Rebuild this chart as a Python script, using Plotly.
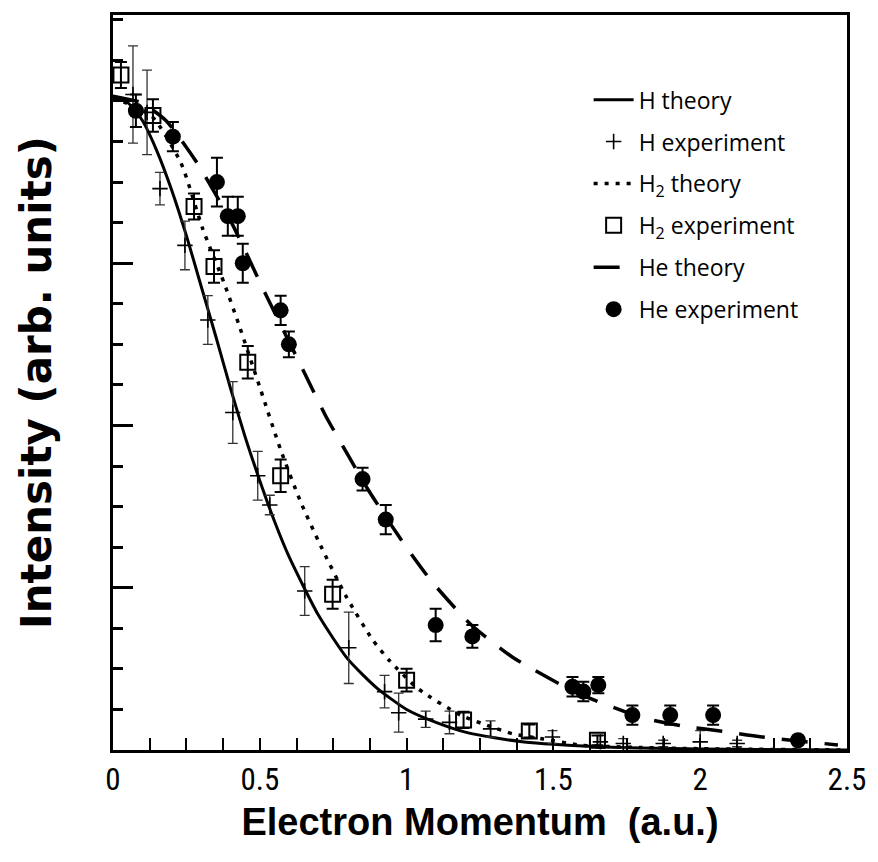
import plotly.graph_objects as go

# ---------------- data ----------------
# H theory (solid)
h_th_x = [0.0, 0.05, 0.1, 0.15, 0.2, 0.25, 0.3, 0.35, 0.4, 0.45, 0.5, 0.55, 0.6, 0.7, 0.8,
          0.9, 1.0, 1.1, 1.2, 1.3, 1.4, 1.5, 1.6, 1.7, 1.8, 2.0, 2.2, 2.5]
h_th_y = [4.03, 3.99, 3.88, 3.69, 3.45, 3.17, 2.86, 2.55, 2.23, 1.93, 1.66, 1.41, 1.19, 0.83, 0.56,
          0.38, 0.25, 0.17, 0.11, 0.075, 0.05, 0.035, 0.025, 0.017, 0.012, 0.006, 0.003, 0.0]

# H experiment (+ with error bars)
h_ex_x = [0.068, 0.116, 0.160, 0.245, 0.323, 0.408, 0.493, 0.534, 0.653, 0.803, 0.925,
          0.973, 1.065, 1.146, 1.286, 1.497, 1.660, 1.738, 1.874, 2.000, 2.126]
h_ex_y = [4.04, 3.93, 3.46, 3.11, 2.65, 2.08, 1.69, 1.51, 0.98, 0.63, 0.36,
          0.23, 0.19, 0.17, 0.13, 0.08, 0.05, 0.04, 0.04, 0.05, 0.04]
h_ex_e = [0.30, 0.26, 0.10, 0.15, 0.15, 0.19, 0.15, 0.06, 0.15, 0.22, 0.10,
          0.12, 0.05, 0.07, 0.05, 0.04, 0.04, 0.03, 0.02, 0.07, 0.02]

# H2 theory (dotted)
h2_th_x = [0.0, 0.13, 0.231, 0.306, 0.378, 0.429, 0.503, 0.571, 0.639, 0.707, 0.793, 0.884,
           0.942, 1.041, 1.184, 1.293, 1.361, 1.466, 1.592, 1.8, 2.0, 2.5]
h2_th_y = [4.02, 3.91, 3.62, 3.21, 2.88, 2.62, 2.22, 1.85, 1.53, 1.26, 0.95, 0.68,
           0.55, 0.375, 0.215, 0.14, 0.10, 0.068, 0.03, 0.015, 0.008, 0.0]

# H2 experiment (open squares)
h2_ex_x = [0.027, 0.136, 0.276, 0.344, 0.459, 0.571, 0.748, 1.000, 1.194, 1.418, 1.650]
h2_ex_y = [4.16, 3.91, 3.35, 2.98, 2.39, 1.69, 0.96, 0.43, 0.185, 0.117, 0.06]
h2_ex_e = [0.08, 0.10, 0.08, 0.10, 0.10, 0.10, 0.09, 0.07, 0.05, 0.04, 0.03]

# He theory (dashed)
he_th_x = [0.0, 0.095, 0.18, 0.282, 0.401, 0.517, 0.656, 0.724, 0.803, 0.867, 0.935, 1.003,
           1.085, 1.218, 1.361, 1.575, 1.796, 1.939, 2.068, 2.211, 2.469]
he_th_y = [4.03, 3.99, 3.88, 3.63, 3.26, 2.82, 2.31, 2.06, 1.81, 1.61, 1.42, 1.24,
           1.04, 0.775, 0.572, 0.357, 0.203, 0.148, 0.117, 0.08, 0.031]

# He experiment (filled circles)
he_ex_x = [0.078, 0.204, 0.354, 0.391, 0.425, 0.442, 0.571, 0.599, 0.850, 0.929, 1.099,
           1.224, 1.565, 1.602, 1.653, 1.769, 1.898, 2.044, 2.333]
he_ex_y = [3.94, 3.78, 3.50, 3.29, 3.29, 3.00, 2.71, 2.50, 1.67, 1.42, 0.77,
           0.70, 0.39, 0.36, 0.40, 0.215, 0.215, 0.215, 0.06]
he_ex_e = [0.10, 0.09, 0.15, 0.12, 0.12, 0.12, 0.09, 0.08, 0.07, 0.09, 0.10,
           0.07, 0.06, 0.06, 0.05, 0.06, 0.06, 0.06, 0.0]

x_ticks = [0, 0.5, 1, 1.5, 2, 2.5]
x_tick_labels = ["0", "0.5", "1", "1.5", "2", "2.5"]

# ---------------- figure ----------------
legend_font = dict(family="Open Sans, Lato, sans-serif", size=23, color="black")

fig = go.Figure()

fig.add_trace(go.Scatter(
    x=h_th_x, y=h_th_y, mode="lines", name="H theory", legendgroup="a",
    line=dict(color="black", width=3, shape="spline", smoothing=0.6)))

fig.add_trace(go.Scatter(
    x=h_ex_x, y=h_ex_y, mode="markers", name="H experiment", legendgroup="b",
    marker=dict(symbol="cross-thin", size=11, color="black",
                line=dict(color="black", width=1.6)),
    error_y=dict(type="data", array=h_ex_e, visible=True, color="#333333",
                 thickness=1.3, width=5)))

fig.add_trace(go.Scatter(
    x=h2_th_x, y=h2_th_y, mode="lines", name="H<sub>2</sub> theory", legendgroup="c",
    line=dict(color="black", width=3.5, dash="4px,7px", shape="spline", smoothing=0.6)))

fig.add_trace(go.Scatter(
    x=h2_ex_x, y=h2_ex_y, mode="markers", name="H<sub>2</sub> experiment", legendgroup="d",
    marker=dict(symbol="square-open", size=15, color="black",
                line=dict(color="black", width=2)),
    error_y=dict(type="data", array=h2_ex_e, visible=True, color="black",
                 thickness=2, width=6)))

fig.add_trace(go.Scatter(
    x=he_th_x, y=he_th_y, mode="lines", name="He theory", legendgroup="e",
    line=dict(color="black", width=3.5, dash="26px,17px", shape="spline", smoothing=0.6)))

fig.add_trace(go.Scatter(
    x=he_ex_x, y=he_ex_y, mode="markers", name="He experiment", legendgroup="f",
    marker=dict(symbol="circle", size=16, color="black"),
    error_y=dict(type="data", array=he_ex_e, visible=True, color="black",
                 thickness=2, width=6)))

fig.update_layout(
    width=878, height=862,
    margin=dict(l=113, r=31, t=12, b=112),
    paper_bgcolor="white", plot_bgcolor="white",
    showlegend=True,
    legend=dict(x=0.648, y=0.914, xanchor="left", yanchor="top",
                font=legend_font, bgcolor="rgba(0,0,0,0)",
                tracegroupgap=9, itemwidth=40),
    font=dict(family="Liberation Sans, Arial, sans-serif", color="black"),
)

fig.update_xaxes(
    range=[0, 2.5], tickmode="array", tickvals=x_ticks, ticktext=x_tick_labels,
    ticks="inside", ticklen=12, tickwidth=2, tickcolor="black",
    minor=dict(dtick=0.125, ticks="inside", ticklen=12, tickwidth=2, tickcolor="black"),
    showline=True, linewidth=3, linecolor="black", mirror=True,
    showgrid=False, zeroline=False,
    tickfont=dict(family="Liberation Sans Narrow, Roboto Condensed, Liberation Sans, sans-serif",
                  size=31, color="black"),
    title=dict(text="<b>Electron Momentum  (a.u.)</b>",
               font=dict(family="Liberation Sans, Arial, sans-serif", size=38, color="black"),
               standoff=12),
)

fig.update_yaxes(
    range=[0, 4.53], dtick=1, tick0=0, showticklabels=False,
    ticks="inside", ticklen=20, tickwidth=2.5, tickcolor="black",
    minor=dict(dtick=0.25, ticks="inside", ticklen=10, tickwidth=2.5, tickcolor="black"),
    showline=True, linewidth=3, linecolor="black", mirror=True,
    showgrid=False, zeroline=False,
    title=dict(text="<b>Intensity (arb. units)</b>",
               font=dict(family="DejaVu Sans, Liberation Sans, sans-serif", size=42, color="black"),
               standoff=46),
)

fig.write_html("out.html")
